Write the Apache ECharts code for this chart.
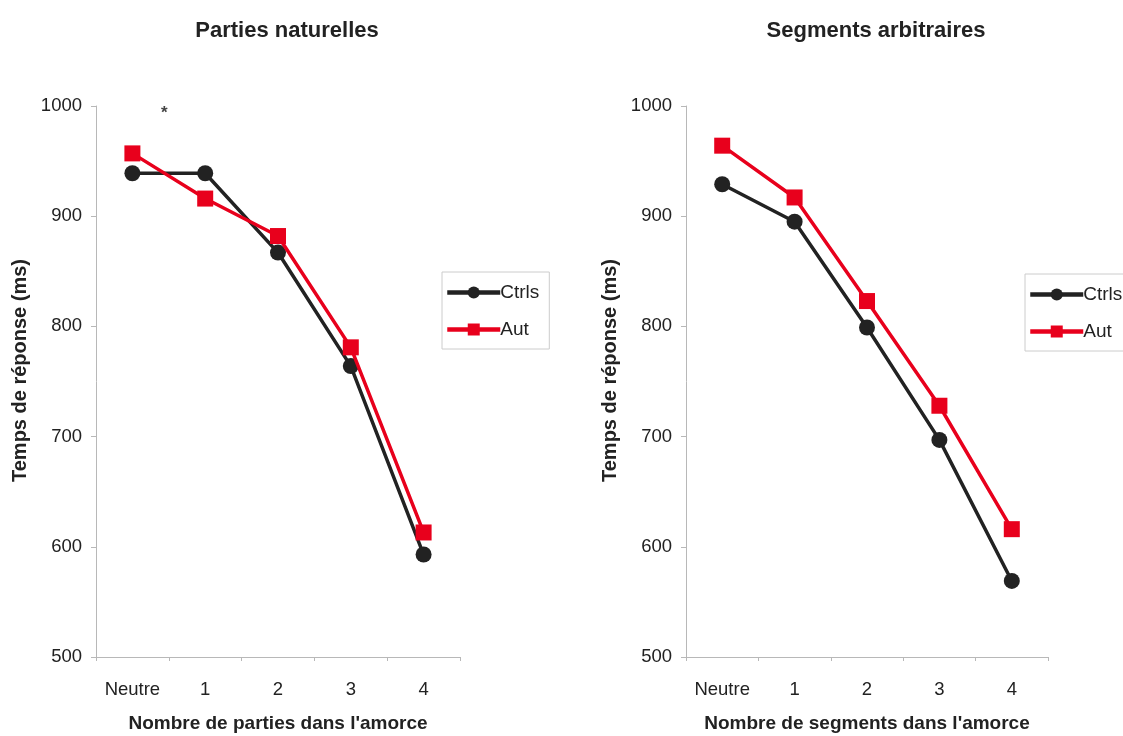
<!DOCTYPE html>
<html>
<head>
<meta charset="utf-8">
<script src="https://cdn.jsdelivr.net/npm/echarts@6/dist/echarts.min.js"></script>
<style>
  html, body { margin: 0; padding: 0; background: #fff; }
  #chart { width: 1123px; height: 736px; }
</style>
</head>
<body>
<div id="chart"></div>
<script>
// categories
const categories = ["Neutre", "1", "2", "3", "4"];

// Parties naturelles (ms)
const naturelCtrls = [939, 939, 867, 764, 593];
const naturelAut = [957, 916, 882, 781, 613];

// Segments arbitraires (ms)
const arbitraireCtrls = [929, 895, 799, 697, 569];
const arbitraireAut = [964, 917, 823, 728, 616];

const yTicks = [500, 600, 700, 800, 900, 1000];

const font = "'Liberation Sans', Arial, sans-serif";
const BLACK = "#222222";
const RED = "#e8001c";

const chart = echarts.init(document.getElementById("chart"));

const makeX = (gridIndex, name) => ({
  type: "category",
  gridIndex: gridIndex,
  data: categories,
  boundaryGap: true,
  name: name,
  nameLocation: "middle",
  nameGap: 57,
  nameTextStyle: { fontFamily: font, fontSize: 19, fontWeight: "bold", color: BLACK },
  axisLine: { lineStyle: { color: "#b8b8b8", width: 1 } },
  axisTick: { show: true, length: 4, lineStyle: { color: "#b8b8b8" } },
  axisLabel: { fontFamily: font, fontSize: 18.5, color: BLACK, margin: 23 },
});

const makeY = (gridIndex) => ({
  type: "value",
  gridIndex: gridIndex,
  min: yTicks[0],
  max: yTicks[yTicks.length - 1],
  interval: 100,
  name: "Temps de réponse (ms)",
  nameLocation: "middle",
  nameGap: 66,
  nameTextStyle: {
    fontFamily: font,
    fontSize: 20,
    fontWeight: "bold",
    color: BLACK,
    padding: [0, 0, 0, 22],
  },
  axisLine: { show: true, lineStyle: { color: "#b8b8b8", width: 1 } },
  axisTick: { show: true, length: 5, lineStyle: { color: "#b8b8b8" } },
  axisLabel: {
    fontFamily: font,
    fontSize: 18.5,
    color: BLACK,
    margin: 14,
    formatter: (v) => String(v),
  },
  splitLine: { show: false },
});

const makeSeries = (name, data, idx, color, symbol) => ({
  name: name,
  type: "line",
  xAxisIndex: idx,
  yAxisIndex: idx,
  data: data,
  symbol: symbol,
  symbolSize: 16,
  lineStyle: { color: color, width: 3.5 },
  itemStyle: { color: color },
  z: name === "Aut" ? 3 : 2,
});

const legendBox = (left, top) => ({
  orient: "vertical",
  left: left,
  top: top,
  data: ["Ctrls", "Aut"],
  itemWidth: 53,
  itemHeight: 15,
  itemGap: 18,
  padding: [11, 10, 10, 3],
  borderColor: "#cccccc",
  borderWidth: 1,
  lineStyle: { width: 4.5 },
  textStyle: { fontFamily: font, fontSize: 19, color: BLACK, padding: [0, 0, 0, -5] },
  selectedMode: false,
});

const option = {
  animation: false,
  backgroundColor: "#ffffff",
  title: [
    {
      text: "Parties naturelles",
      left: 282,
      top: 15,
      textAlign: "center",
      textStyle: { fontFamily: font, fontSize: 22, fontWeight: "bold", color: BLACK },
    },
    {
      text: "Segments arbitraires",
      left: 871,
      top: 15,
      textAlign: "center",
      textStyle: { fontFamily: font, fontSize: 22, fontWeight: "bold", color: BLACK },
    },
  ],
  legend: [legendBox(442, 272), legendBox(1025, 274)],
  grid: [
    { left: 96, right: 663, top: 106, bottom: 79, outerBoundsMode: "none" },
    { left: 686, right: 75, top: 106, bottom: 79, outerBoundsMode: "none" },
  ],
  xAxis: [makeX(0, "Nombre de parties dans l'amorce"), makeX(1, "Nombre de segments dans l'amorce")],
  yAxis: [makeY(0), makeY(1)],
  series: [
    makeSeries("Ctrls", naturelCtrls, 0, BLACK, "circle"),
    makeSeries("Aut", naturelAut, 0, RED, "rect"),
    makeSeries("Ctrls", arbitraireCtrls, 1, BLACK, "circle"),
    makeSeries("Aut", arbitraireAut, 1, RED, "rect"),
  ],
  graphic: [
    {
      type: "text",
      left: 161,
      top: 105,
      style: { text: "*", font: "bold 17px " + font, fill: "#444444" },
    },
  ],
};

chart.setOption(option);
</script>
</body>
</html>
